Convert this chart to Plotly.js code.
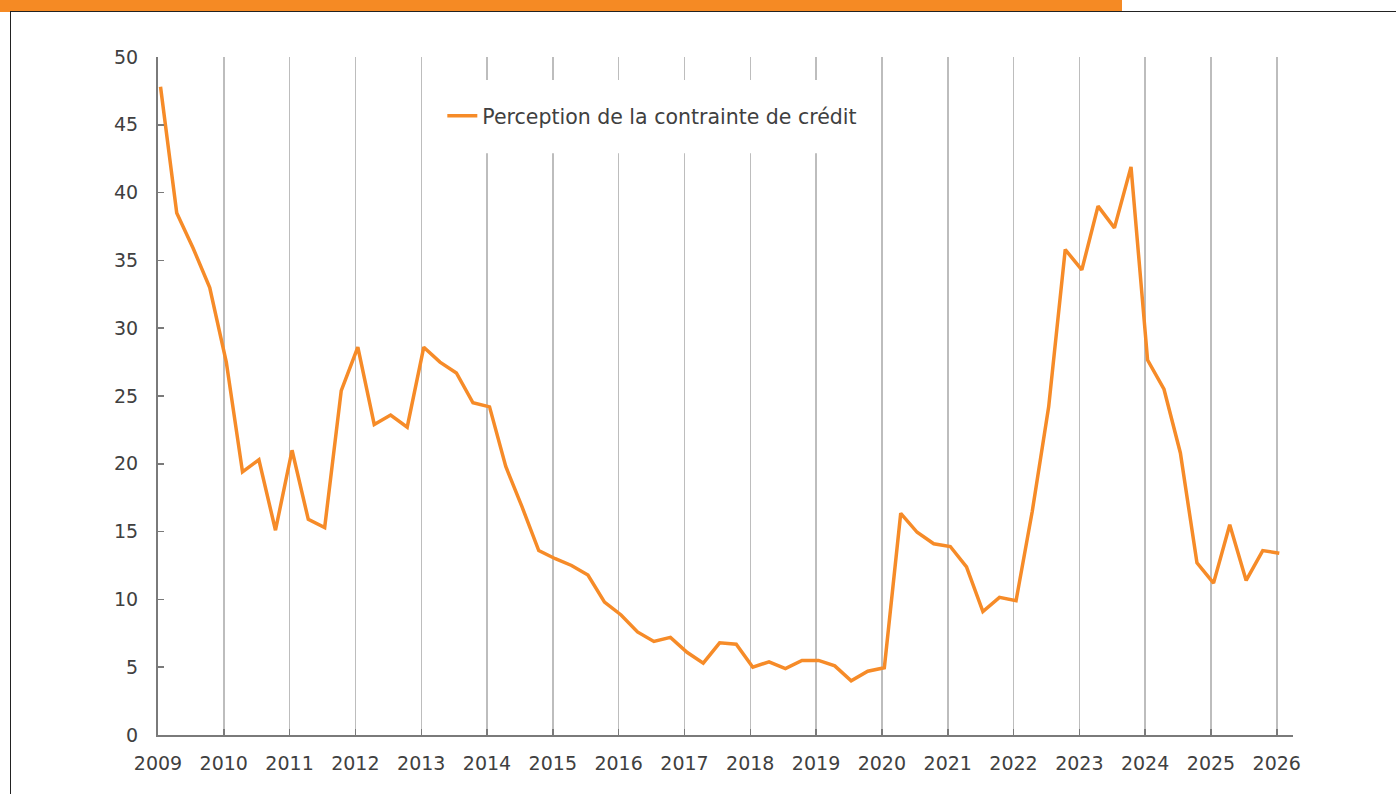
<!DOCTYPE html>
<html>
<head>
<meta charset="utf-8">
<script src="https://cdn.plot.ly/plotly-3.0.1.min.js"></script>
<style>
  html, body { margin: 0; padding: 0; background: #fff; }
  #wrap { position: relative; width: 1396px; height: 794px; overflow: hidden; }
  #chart { position: absolute; left: 0; top: 0; width: 1396px; height: 794px; }
  #bar { position: absolute; left: 0; top: 0; width: 1122px; height: 12px; background: #F58A24; z-index: 5; }
  #topline { position: absolute; left: 10px; top: 11px; width: 1386px; height: 1px; background: #222; z-index: 6; }
  #leftline { position: absolute; left: 10px; top: 11px; width: 1px; height: 783px; background: #222; z-index: 6; }
</style>
</head>
<body>
<div id="wrap">
  <div id="chart"></div>
  <div id="bar"></div>
  <div id="topline"></div>
  <div id="leftline"></div>
</div>
<script>
// Quarterly observations, 2009 Q1 .. 2026 Q1
const years = [];
for (let y = 2009; y <= 2026; y++) years.push(y);
const quarterMonths = ["01", "04", "07", "10"];
const dates = [];
years.forEach(y => quarterMonths.forEach(m => { if (dates.length < 69) dates.push(y + "-" + m + "-15"); }));

const seriesName = "Perception de la contrainte de crédit";
const values = [
  47.8, 38.5, 35.9, 33.0,
  27.5, 19.4, 20.3, 15.1,
  21.0, 15.9, 15.3, 25.4,
  28.6, 22.9, 23.6, 22.7,
  28.6, 27.5, 26.7, 24.5,
  24.2, 19.8, 16.8, 13.6,
  13.0, 12.5, 11.8, 9.8,
  8.85, 7.6, 6.9, 7.2,
  6.1, 5.3, 6.8, 6.7,
  5.0, 5.4, 4.9, 5.5,
  5.5, 5.1, 4.0, 4.7,
  4.96, 16.35, 14.95, 14.1,
  13.9, 12.4, 9.1, 10.15,
  9.9, 16.5, 24.2, 35.8,
  34.3, 39.0, 37.4, 41.9,
  27.65, 25.5, 20.8, 12.7,
  11.2, 15.5, 11.4, 13.6,
  13.4
];
const xTickLabels = years.map(String);
const yTicks = [0, 5, 10, 15, 20, 25, 30, 35, 40, 45, 50];

const textColor = "#404040";
const axisColor = "#7a7a7a";
const fontFamily = "'DejaVu Sans', 'Open Sans', sans-serif";

const trace = {
  x: dates,
  y: values,
  type: "scatter",
  mode: "lines",
  name: seriesName,
  line: { color: "#F68B28", width: 3.5 },
  hoverinfo: "x+y"
};

const layout = {
  width: 1396,
  height: 794,
  margin: { l: 157.5, r: 103, t: 57, b: 59, pad: 0 },
  paper_bgcolor: "#ffffff",
  plot_bgcolor: "#ffffff",
  font: { family: fontFamily, color: textColor, size: 19 },
  showlegend: true,
  legend: {
    x: 0.2505, xanchor: "left",
    y: 0.913, yanchor: "middle",
    bgcolor: "rgba(255,255,255,0)",
    borderwidth: 0,
    font: { family: fontFamily, size: 20.5, color: textColor }
  },
  xaxis: {
    type: "date",
    range: ["2009-01-01", "2026-04-01"],
    tickmode: "array",
    tickvals: years.map(y => y + "-01-01"),
    ticktext: xTickLabels,
    showgrid: true,
    gridcolor: "#bdbdbd",
    gridwidth: 1.5,
    showline: true,
    linecolor: axisColor,
    linewidth: 2,
    ticks: "inside",
    ticklen: 6,
    tickwidth: 1.5,
    tickcolor: axisColor,
    ticklabelstandoff: 10,
    zeroline: false,
    tickfont: { family: fontFamily, size: 19, color: textColor }
  },
  yaxis: {
    range: [0, 50],
    tickmode: "array",
    tickvals: yTicks,
    ticktext: yTicks.map(String),
    showgrid: false,
    showline: true,
    linecolor: axisColor,
    linewidth: 2,
    ticks: "inside",
    ticklen: 6,
    tickwidth: 1.5,
    tickcolor: axisColor,
    ticklabelstandoff: 14,
    zeroline: false,
    tickfont: { family: fontFamily, size: 19, color: textColor }
  },
  shapes: [
    {
      type: "rect", xref: "x", yref: "y",
      x0: "2013-01-24", x1: "2019-12-10", y0: 42.9, y1: 48.3,
      fillcolor: "#ffffff", line: { width: 0 }, layer: "between"
    }
  ]
};

Plotly.newPlot("chart", [trace], layout, { displayModeBar: false, staticPlot: true });
</script>
</body>
</html>
